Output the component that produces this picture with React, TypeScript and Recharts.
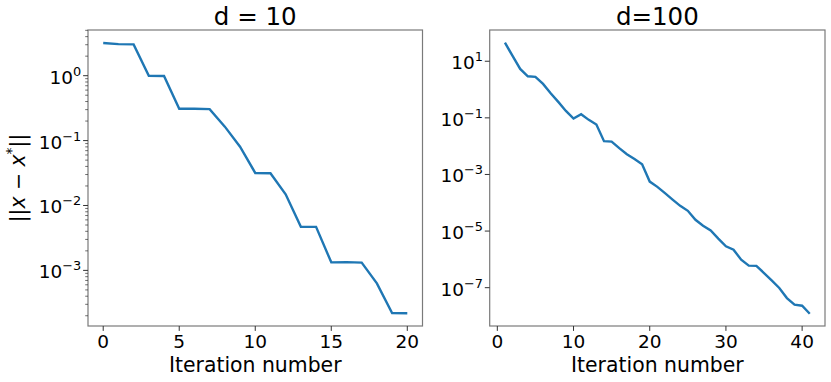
import React from "react";
import { LineChart, Line, XAxis, YAxis, Label } from "recharts";

// ---------- data ----------
const leftIters = [0, 1, 2, 3, 4, 5, 6, 7, 8, 9, 10, 11, 12, 13, 14, 15, 16, 17, 18, 19, 20];
const leftErr = [3.19, 3.07, 3.04, 1.0, 0.99, 0.31, 0.31, 0.305, 0.164, 0.0805, 0.0317, 0.0314, 0.0149, 0.00471, 0.00468, 0.00133, 0.00134, 0.00132, 0.00063, 0.00022, 0.000219];

const rightIters = [1, 2, 3, 4, 5, 6, 7, 8, 9, 10, 11, 12, 13, 14, 15, 16, 17, 18, 19, 20, 21, 22, 23, 24, 25, 26, 27, 28, 29, 30, 31, 32, 33, 34, 35, 36, 37, 38, 39, 40, 41];
const rightErr = [45.5, 15.4, 5.35, 2.95, 2.8, 1.58, 0.74, 0.366, 0.176, 0.094, 0.135, 0.085, 0.058, 0.015, 0.0145, 0.0085, 0.0052, 0.0035, 0.0023, 5.6e-4, 3.65e-4, 2.2e-4, 1.3e-4, 7.8e-5, 5.2e-5, 2.5e-5, 1.55e-5, 1.05e-5, 5.4e-6, 2.9e-6, 2.2e-6, 9.7e-7, 6e-7, 5.9e-7, 3.3e-7, 1.8e-7, 9.8e-8, 4.3e-8, 2.5e-8, 2.3e-8, 1.2e-8];

const leftXTicks = [0, 5, 10, 15, 20];
const rightXTicks = [0, 10, 20, 30, 40];
const leftYMajor = [1, 0.1, 0.01, 0.001];
const leftYMinor = [
  2e-4, 3e-4, 4e-4, 5e-4, 6e-4, 7e-4, 8e-4, 9e-4,
  2e-3, 3e-3, 4e-3, 5e-3, 6e-3, 7e-3, 8e-3, 9e-3,
  2e-2, 3e-2, 4e-2, 5e-2, 6e-2, 7e-2, 8e-2, 9e-2,
  0.2, 0.3, 0.4, 0.5, 0.6, 0.7, 0.8, 0.9,
  2, 3, 4, 5,
];
const rightYMajor = [10, 0.1, 0.001, 1e-5, 1e-7];

const titles = ["d = 10", "d=100"];
const xLabel = "Iteration number";

const leftData = leftIters.map((it, i) => ({ it, v: leftErr[i] }));
const rightData = rightIters.map((it, i) => ({ it, v: rightErr[i] }));

// ---------- styles ----------
const FONT = "DejaVu Sans, Verdana, sans-serif";
const SPINE = "#7a7a7a";
const TICKC = "#333";
const BLUE = "#1f77b4";
const TOP = 30;
const BOTTOM_AXIS_H = 56;
const H = 382;

const expLabel = (v: number) => {
  const e = Math.round(Math.log10(v));
  return e < 0 ? "\u2212" + Math.abs(e) : String(e);
};

const makeYTick = (majors: number[]) => (props: any) => {
  const { x, y, payload } = props;
  const v = payload.value;
  const isMajor = majors.some((m) => Math.abs(m - v) / m < 1e-6);
  return (
    <g>
      <line x1={x - (isMajor ? 4.9 : 2.8)} x2={x} y1={y} y2={y} stroke={TICKC} strokeWidth={isMajor ? 1 : 0.7} />
      {isMajor && (
        <text x={x - 6.7} y={y + 8} textAnchor="end" fontSize={18.5} fontFamily={FONT} fill="#000">
          <tspan>10</tspan>
          <tspan dy={-8} fontSize={12.9}>{expLabel(v)}</tspan>
        </text>
      )}
    </g>
  );
};

const XTick = (props: any) => {
  const { x, y, payload } = props;
  return (
    <g>
      <line x1={x} x2={x} y1={y} y2={y + 4.9} stroke={TICKC} strokeWidth={1} />
      <text x={x} y={y + 22.3} textAnchor="middle" fontSize={18.5} fontFamily={FONT} fill="#000">
        {payload.value}
      </text>
    </g>
  );
};

type PanelProps = {
  width: number;
  yAxisWidth: number;
  rightMargin: number;
  data: { it: number; v: number }[];
  xDomain: [number, number];
  xTicks: number[];
  yDomain: [number, number];
  yTicks: number[];
  yMajors: number[];
  title: string;
  yLabel?: boolean;
};

const Panel = (p: PanelProps) => {
  const plotLeft = p.yAxisWidth;
  const plotRight = p.width - p.rightMargin;
  const plotBottom = H - BOTTOM_AXIS_H;
  const cx = (plotLeft + plotRight) / 2;
  return (
    <LineChart width={p.width} height={H} data={p.data} margin={{ top: TOP, right: p.rightMargin, left: 0, bottom: 0 }}>
      <XAxis
        dataKey="it"
        type="number"
        domain={p.xDomain}
        ticks={p.xTicks}
        allowDataOverflow
        height={BOTTOM_AXIS_H}
        tickSize={0}
        tickMargin={0}
        tickLine={false}
        axisLine={false}
        tick={<XTick />}
        interval={0}
      >
        <Label
          content={() => (
            <g>
              <rect
                x={plotLeft}
                y={TOP}
                width={plotRight - plotLeft}
                height={plotBottom - TOP}
                fill="none"
                stroke={SPINE}
                strokeWidth={1.2}
              />
              <text x={cx} y={371.7} textAnchor="middle" fontSize={20.4} fontFamily={FONT} fill="#000">
                {xLabel}
              </text>
              <text x={cx} y={25} textAnchor="middle" fontSize={24.5} fontFamily={FONT} fill="#000">
                {p.title}
              </text>
            </g>
          )}
        />
      </XAxis>
      <YAxis
        type="number"
        scale="log"
        domain={p.yDomain}
        ticks={p.yTicks}
        allowDataOverflow
        width={p.yAxisWidth}
        tickSize={0}
        tickMargin={0}
        tickLine={false}
        axisLine={false}
        tick={makeYTick(p.yMajors)}
        interval={0}
      >
        {p.yLabel && (
          <Label
            content={() => (
              <text
                x={25}
                y={178}
                transform="rotate(-90 25 178)"
                textAnchor="middle"
                fontSize={20.4}
                fontFamily={FONT}
                fill="#000"
              >
                ||<tspan fontStyle="italic">x</tspan> {"\u2212"} <tspan fontStyle="italic">x</tspan>
                <tspan dy={-9} fontSize={14}>*</tspan>
                <tspan dy={9}>||</tspan>
              </text>
            )}
          />
        )}
      </YAxis>
      <Line
        type="linear"
        dataKey="v"
        stroke={BLUE}
        strokeWidth={2.4}
        dot={false}
        isAnimationActive={false}
      />
    </LineChart>
  );
};

export default function App() {
  return (
    <div style={{ position: "absolute", left: 0, top: 0, width: 831, height: 382, background: "#fff" }}>
      <div style={{ position: "absolute", left: 0, top: 0 }}>
        <Panel
          width={430}
          yAxisWidth={88}
          rightMargin={7.5}
          data={leftData}
          xDomain={[-1, 21]}
          xTicks={leftXTicks}
          yDomain={[1.39e-4, 5.06]}
          yTicks={[...leftYMajor, ...leftYMinor]}
          yMajors={leftYMajor}
          title={titles[0]}
          yLabel
        />
      </div>
      <div style={{ position: "absolute", left: 430, top: 0 }}>
        <Panel
          width={401}
          yAxisWidth={59.7}
          rightMargin={6}
          data={rightData}
          xDomain={[-1, 43]}
          xTicks={rightXTicks}
          yDomain={[4.43e-9, 127]}
          yTicks={rightYMajor}
          yMajors={rightYMajor}
          title={titles[1]}
        />
      </div>
    </div>
  );
}
